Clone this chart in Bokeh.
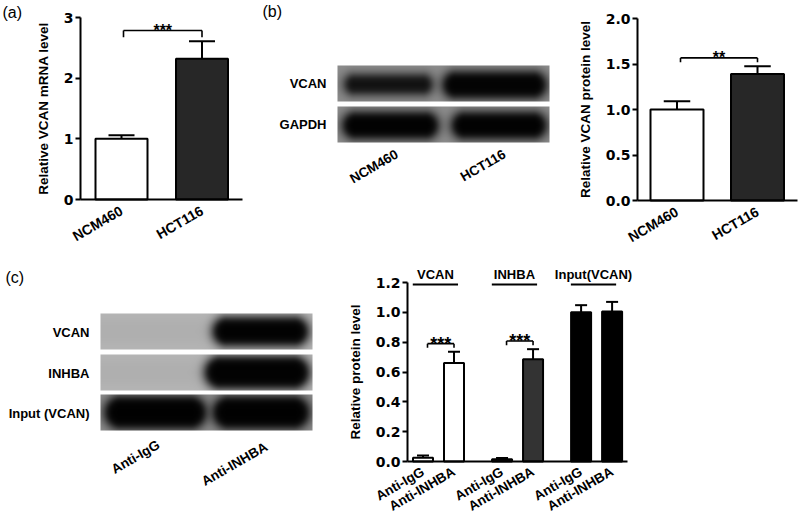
import math
import numpy as np
from bokeh.plotting import figure
from bokeh.models import Range1d, FixedTicker, LinearColorMapper, Label, NumeralTickFormatter
from bokeh.layouts import row, column
from bokeh.palettes import Greys256
from bokeh.core.properties import value
from bokeh.embed import file_html
from bokeh.resources import INLINE

# ------------------------------------------------------------------ data
a_categories = ["NCM460", "HCT116"]
a_values = [1.00, 2.32]
a_errors = [0.06, 0.29]
a_sig = "***"
a_yticks = [0, 1, 2, 3]
a_ylabel = "Relative VCAN mRNA level"

b_categories = ["NCM460", "HCT116"]
b_values = [1.00, 1.39]
b_errors = [0.09, 0.085]
b_sig = "**"
b_yticks = [0.0, 0.5, 1.0, 1.5, 2.0]
b_ylabel = "Relative VCAN protein level"
b_blot_rows = ["VCAN", "GAPDH"]
b_blot_lanes = ["NCM460", "HCT116"]
b_band_intensity = [[0.86, 0.99], [1.0, 1.0]]

c_groups = ["VCAN", "INHBA", "Input(VCAN)"]
c_conditions = ["Anti-IgG", "Anti-INHBA"]
c_values = [[0.025, 0.66], [0.015, 0.685], [1.00, 1.005]]
c_errors = [[0.015, 0.075], [0.008, 0.068], [0.048, 0.065]]
c_sig = ["***", "***", ""]
c_yticks = [0.0, 0.2, 0.4, 0.6, 0.8, 1.0, 1.2]
c_ylabel = "Relative protein level"
c_blot_rows = ["VCAN", "INHBA", "Input (VCAN)"]
c_blot_lanes = ["Anti-IgG", "Anti-INHBA"]
c_band_intensity = [[0.0, 1.0], [0.0, 1.0], [1.0, 1.0]]

# ------------------------------------------------------------------ style
FONT = "Liberation Sans"
NUM_FONT = "DejaVu Sans"
DARK = "#272727"


def base_fig(width, height, x_range, y_range, axes=True):
    kw = {}
    if not axes:
        kw = dict(x_axis_type=None, y_axis_type=None)
    p = figure(width=width, height=height, x_range=Range1d(*x_range),
               y_range=Range1d(*y_range), output_backend="svg",
               toolbar_location=None, title_location=None, min_border=0, **kw)
    p.outline_line_color = None
    p.background_fill_color = "white"
    p.border_fill_color = "white"
    if axes:
        p.xgrid.grid_line_color = None
        p.ygrid.grid_line_color = None
    return p


def style_axes(p, yticks, ylabel, y_loc, xticks, xlabels, xbounds, yfmt=None,
               xsize="14px", xstandoff=4):
    yax = p.yaxis[0]
    yax.fixed_location = y_loc
    yax.ticker = FixedTicker(ticks=yticks)
    if yfmt:
        yax.formatter = NumeralTickFormatter(format=yfmt)
    yax.bounds = (yticks[0], yticks[-1])
    yax.axis_line_width = 2
    yax.axis_line_color = "black"
    yax.major_tick_line_width = 2
    yax.major_tick_line_color = "black"
    yax.major_tick_out = 5
    yax.major_tick_in = 0
    yax.minor_tick_line_color = None
    yax.major_label_text_font = NUM_FONT
    yax.major_label_text_font_style = "bold"
    yax.major_label_text_font_size = "14px"
    yax.major_label_text_color = "black"
    yax.major_label_standoff = 2
    yax.axis_label = ylabel
    yax.axis_label_text_font = FONT
    yax.axis_label_text_font_style = "bold"
    yax.axis_label_text_font_size = "13.5px"
    yax.axis_label_text_color = "black"
    yax.axis_label_standoff = 10

    xax = p.xaxis[0]
    xax.fixed_location = 0
    xax.bounds = xbounds
    xax.ticker = FixedTicker(ticks=list(xticks))
    xax.major_label_overrides = {float(t): lab for t, lab in zip(xticks, xlabels)}
    xax.axis_line_width = 2
    xax.axis_line_color = "black"
    xax.major_tick_line_color = None
    xax.minor_tick_line_color = None
    xax.major_label_orientation = math.pi / 6
    xax.major_label_text_font = FONT
    xax.major_label_text_font_style = "bold"
    xax.major_label_text_font_size = xsize
    xax.major_label_text_color = "black"
    xax.major_label_standoff = xstandoff


def bars_with_errors(p, xs, vals, errs, colors, width, cap_frac=0.5):
    p.vbar(x=xs, top=vals, bottom=0, width=width, fill_color=colors,
           line_color="black", line_width=2)
    tops = [v + e for v, e in zip(vals, errs)]
    p.segment(x0=xs, y0=vals, x1=xs, y1=tops, line_color="black", line_width=2)
    hw = width * cap_frac / 2
    p.segment(x0=[x - hw for x in xs], y0=tops, x1=[x + hw for x in xs], y1=tops,
              line_color="black", line_width=2)
    return tops


def bracket(p, x1, x2, top, leg, text, size):
    p.segment(x0=[x1, x1, x2], y0=[top - leg, top, top - leg],
              x1=[x1, x2, x2], y1=[top, top, top], line_color="black", line_width=1.6)
    p.text(x=[(x1 + x2) / 2], y=[top], text=[text], text_align="center",
           text_baseline="alphabetic", text_font=value(FONT), text_font_style="bold",
           text_font_size=size, text_color="black")


def add_label(p, x, y, text, size="13px", bold=True, align="right",
              baseline="middle", angle=0.0, units="data"):
    p.add_layout(Label(x=x, y=y, x_units=units, y_units=units, text=text,
                       angle=angle, text_align=align, text_baseline=baseline,
                       text_font=FONT, text_font_style="bold" if bold else "normal",
                       text_font_size=size, text_color="black"))


# ------------------------------------------------------------------ (a)
# panel occupies page pixels x 0..250, y 0..245; axis frame x 80..242, y 17..199
a_x = [i + 1 for i in range(len(a_categories))]
a_px, a_py = 80.5, 182 / 3
ax_ = lambda px: 1 + (px - 121) / a_px
ay_ = lambda py: (199 - py) / a_py
fa = base_fig(250, 245, (ax_(0), ax_(250)), (ay_(245), ay_(0)))
style_axes(fa, a_yticks, a_ylabel, ax_(80), a_x, a_categories, (ax_(80), ax_(242)))
a_tops = bars_with_errors(fa, a_x, a_values, a_errors, ["white", DARK], 52 / a_px)
a_top = max(a_tops) + 0.175
bracket(fa, a_x[0] + 2 / a_px, a_x[1], a_top, 0.11, a_sig, "16px")
add_label(fa, 2, 242, "(a)", size="16px", bold=False, align="left", baseline="top",
          units="screen")

# ------------------------------------------------------------------ (b) chart
# page pixels x 560..800, y 0..245; axis frame x 637..797, y 18..200
b_x = [i + 1 for i in range(len(b_categories))]
b_px, b_py = 80.5, 182 / 2
bx_ = lambda px: 1 + (px - 676.5) / b_px
by_ = lambda py: (200 - py) / b_py
fbc = base_fig(240, 245, (bx_(560), bx_(800)), (by_(245), by_(0)))
style_axes(fbc, b_yticks, b_ylabel, bx_(637), b_x, b_categories, (bx_(637), bx_(797)),
           yfmt="0.0")
b_tops = bars_with_errors(fbc, b_x, b_values, b_errors, ["white", DARK], 53 / b_px)
b_top = max(b_tops) + 0.092
bracket(fbc, b_x[0] + 3.5 / b_px, b_x[1], b_top, 0.048, b_sig, "16px")


# ------------------------------------------------------------------ blots
def blot_image(x0, x1, y0, y1, bg, bands):
    xs = np.arange(x0, x1) + 0.5
    ys = np.arange(y0, y1) + 0.5
    X, Y = np.meshgrid(xs, ys)
    img = np.full(X.shape, float(bg))
    img = img * (1 - 0.05 * np.exp(-((Y - (y0 + y1) / 2) / ((y1 - y0) / 2.0)) ** 2))
    for cx, cy, hw, rad, dark in bands:
        if dark <= 0:
            continue
        run = max(hw - rad, 0)
        d = np.sqrt(np.maximum(np.abs(X - cx) - run, 0) ** 2 + (Y - cy) ** 2)
        core = 1 / (1 + np.exp((d - rad) / 2.2))
        haze = np.exp(-(np.maximum(d - rad, 0) / 7.0) ** 2)
        img = img * (1 - 0.22 * dark * haze)
        img = img * (1 - 0.985 * dark * core)
    return np.clip(img, 0, 1)[::-1]


gray_map = LinearColorMapper(palette=Greys256, low=0, high=1)

# (b) blot, coordinates are the panel's page pixels (y negated)
fbb = base_fig(310, 245, (250, 560), (-245, 0), axes=False)
b_rows_y = [(65, 101), (106, 142)]
b_lane_cx = [[388, 494], [390, 498.5]]
b_lane_hw = [[43, 51], [47, 46.5]]
b_lane_rad = [[9, 12.5], [12.5, 12.5]]
b_lane_cy = [[84, 84.5], [125, 125]]
for r, (yy0, yy1) in enumerate(b_rows_y):
    bands = [(b_lane_cx[r][k], b_lane_cy[r][k], b_lane_hw[r][k], b_lane_rad[r][k],
              b_band_intensity[r][k]) for k in range(2)]
    img = blot_image(337, 549, yy0, yy1, 0.56, bands)
    fbb.image(image=[img], x=337, y=-yy1, dw=549 - 337, dh=yy1 - yy0,
              color_mapper=gray_map)
for name, (yy0, yy1) in zip(b_blot_rows, b_rows_y):
    add_label(fbb, 326, -(yy0 + yy1) / 2, name)
for name, cx, cy in zip(b_blot_lanes, [373.5, 482.5], [-166, -165]):
    add_label(fbb, cx, cy, name, size="13.5px", align="center", angle=math.pi / 6)
add_label(fbb, 262, -2, "(b)", size="16px", bold=False, align="left", baseline="top")

# (c) blot
fcb = base_fig(340, 270, (0, 340), (-515, -245), axes=False)
c_rows_y = [(313, 349), (354, 390), (394, 430)]
c_row_bg = [0.72, 0.72, 0.56]
c_lane_cx = [[155, 260], [155, 256.5], [155, 260.5]]
c_lane_hw = [[48, 47], [48, 51.5], [50, 47.5]]
c_lane_rad = [[13.5, 13.5], [15.5, 15.5], [15.5, 15.5]]
for r, (yy0, yy1) in enumerate(c_rows_y):
    cy = (yy0 + yy1) / 2
    bands = [(c_lane_cx[r][k], cy, c_lane_hw[r][k], c_lane_rad[r][k],
              c_band_intensity[r][k]) for k in range(2)]
    img = blot_image(100, 312, yy0, yy1, c_row_bg[r], bands)
    fcb.image(image=[img], x=100, y=-yy1, dw=312 - 100, dh=yy1 - yy0,
              color_mapper=gray_map)
for name, (yy0, yy1) in zip(c_blot_rows, c_rows_y):
    add_label(fcb, 89, -(yy0 + yy1) / 2 - 1, name)
for name, cx, cy in zip(c_blot_lanes, [135, 234], [-456.5, -463.5]):
    add_label(fcb, cx, cy, name, size="13.5px", align="center", angle=math.pi / 6)
add_label(fcb, 5, -268, "(c)", size="16px", bold=False, align="left", baseline="top")

# ------------------------------------------------------------------ (c) chart
# page pixels x 340..800, y 245..515; axis frame x 407..627, y 282(1.2)..461(0)
c_step = 2.55
c_px, c_py = 31.0, 179 / 1.2
cx_ = lambda px: (px - 422.5) / c_px
cy_ = lambda py: (461 - py) / c_py
fcc = base_fig(460, 270, (cx_(340), cx_(800)), (cy_(515), cy_(245)))
c_x, c_lab, c_v, c_e = [], [], [], []
for g in range(len(c_groups)):
    for k in range(len(c_conditions)):
        c_x.append(g * c_step + k)
        c_lab.append(c_conditions[k])
        c_v.append(c_values[g][k])
        c_e.append(c_errors[g][k])
style_axes(fcc, c_yticks, c_ylabel, cx_(407), c_x, c_lab, (cx_(407), cx_(627)),
           yfmt="0.0", xsize="13.5px", xstandoff=3)
c_colors = ["white", "white", "#1e1e1e", "#333333", "black", "black"]
c_tops = bars_with_errors(fcc, c_x, c_v, c_e, c_colors, 20 / c_px, cap_frac=0.6)
for g in range(len(c_groups)):
    xa, xb = c_x[2 * g], c_x[2 * g + 1]
    if c_sig[g]:
        t = max(c_tops[2 * g], c_tops[2 * g + 1]) + 0.055
        bracket(fcc, xa + 4.5 / c_px, xb, t, 0.028, c_sig[g], "18px")
    mid = (xa + xb) / 2 - 0.1
    fcc.segment(x0=[mid - 0.73], y0=[1.186], x1=[mid + 0.73], y1=[1.186],
                line_color="black", line_width=2)
fcc.text(x=[g * c_step + 0.5 - 0.1 for g in range(len(c_groups))], y=[1.253] * 3,
         text=c_groups, text_align="center", text_baseline="middle",
         text_font=value(FONT), text_font_style="bold", text_font_size="13px",
         text_color="black")

layout = column(row(fa, fbb, fbc), row(fcb, fcc))
open("out.html", "w").write(file_html(layout, INLINE))
